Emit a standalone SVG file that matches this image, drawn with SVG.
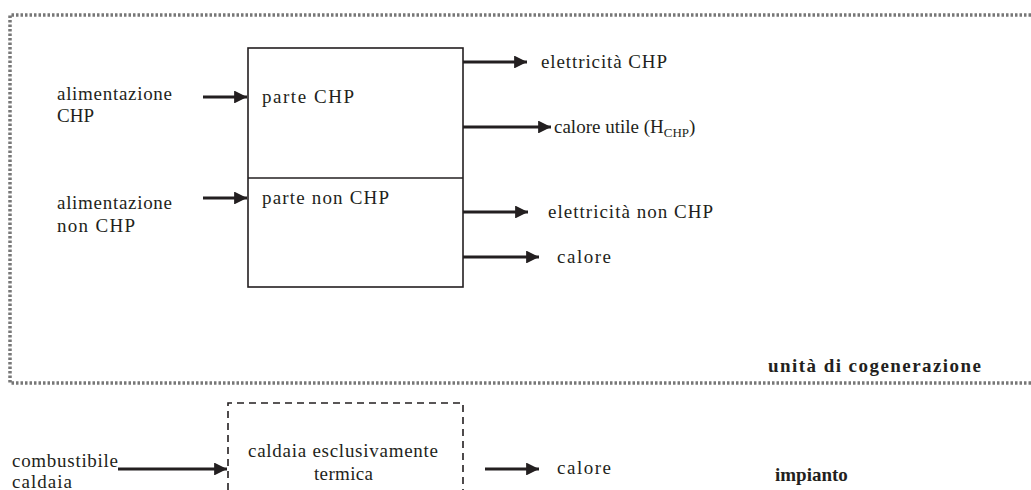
<svg xmlns="http://www.w3.org/2000/svg" width="1031" height="490" viewBox="0 0 1031 490">
<style>
text{font-family:"Liberation Serif","DejaVu Serif","Times New Roman",serif;font-size:19px;fill:#231f20}
.b{font-weight:bold}
.ln{stroke:#231f20;stroke-width:3;fill:none}
.box{stroke:#231f20;stroke-width:1.6;fill:none}
.dot{stroke:#777;stroke-width:3.5;fill:none;stroke-dasharray:2.5 2}
</style>
<defs>
<marker id="ah" viewBox="0 0 10 10" refX="10" refY="5" markerWidth="5" markerHeight="4.3" markerUnits="strokeWidth" orient="auto">
<path d="M0,0 L10,5 L0,10 z" fill="#231f20"/>
</marker>
</defs>
<g id="cogeneration-unit">
<path class="dot" d="M1031,15 H10 V383 H1031"/>
<text class="b" x="768" y="372" textLength="213" lengthAdjust="spacing">unità di cogenerazione</text>
</g>
<g id="chp-box">
<rect class="box" x="248" y="48" width="215" height="239"/>
<line class="box" x1="248" y1="178" x2="463" y2="178"/>
<text x="262" y="103" textLength="92" lengthAdjust="spacing">parte CHP</text>
<text x="262" y="204" textLength="127" lengthAdjust="spacing">parte non CHP</text>
</g>
<g id="input-chp">
<text x="57" y="100" textLength="115" lengthAdjust="spacing">alimentazione</text>
<text x="57" y="122">CHP</text>
</g>
<g id="input-nonchp">
<text x="57" y="209" textLength="115" lengthAdjust="spacing">alimentazione</text>
<text x="57" y="232" textLength="78" lengthAdjust="spacing">non CHP</text>
</g>
<g id="out-el-chp"><text x="541" y="68" textLength="126" lengthAdjust="spacing">elettricità CHP</text></g>
<g id="out-heat-chp"><text x="554" y="133">calore utile (H<tspan font-size="13" dy="4">CHP</tspan><tspan dy="-4">)</tspan></text></g>
<g id="out-el-nonchp"><text x="548" y="218" textLength="165" lengthAdjust="spacing">elettricità non CHP</text></g>
<g id="out-heat"><text x="557" y="263" textLength="54" lengthAdjust="spacing">calore</text></g>
<g id="boiler">
<path class="box" d="M228,490 V403 H463 V490" stroke-width="2.2" stroke-dasharray="7 5"/>
<text x="248" y="457" textLength="190" lengthAdjust="spacing">caldaia esclusivamente</text>
<text x="314" y="480" textLength="59" lengthAdjust="spacing">termica</text>
</g>
<g id="boiler-fuel">
<text x="12" y="467" textLength="106" lengthAdjust="spacing">combustibile</text>
<text x="12" y="488" textLength="60" lengthAdjust="spacing">caldaia</text>
</g>
<g id="boiler-heat"><text x="557" y="474" textLength="54" lengthAdjust="spacing">calore</text></g>
<g id="plant"><text class="b" x="775" y="481">impianto</text></g>
<g id="connectors">
<line class="ln" x1="203" y1="97" x2="247" y2="97" marker-end="url(#ah)"/>
<line class="ln" x1="203" y1="198" x2="247" y2="198" marker-end="url(#ah)"/>
<line class="ln" x1="463" y1="62" x2="527" y2="62" marker-end="url(#ah)"/>
<line class="ln" x1="463" y1="127" x2="551" y2="127" marker-end="url(#ah)"/>
<line class="ln" x1="463" y1="212" x2="528" y2="212" marker-end="url(#ah)"/>
<line class="ln" x1="463" y1="257" x2="539" y2="257" marker-end="url(#ah)"/>
<line class="ln" x1="118" y1="469" x2="227" y2="469" marker-end="url(#ah)"/>
<line class="ln" x1="485" y1="469" x2="539" y2="469" marker-end="url(#ah)"/>
</g>
</svg>
